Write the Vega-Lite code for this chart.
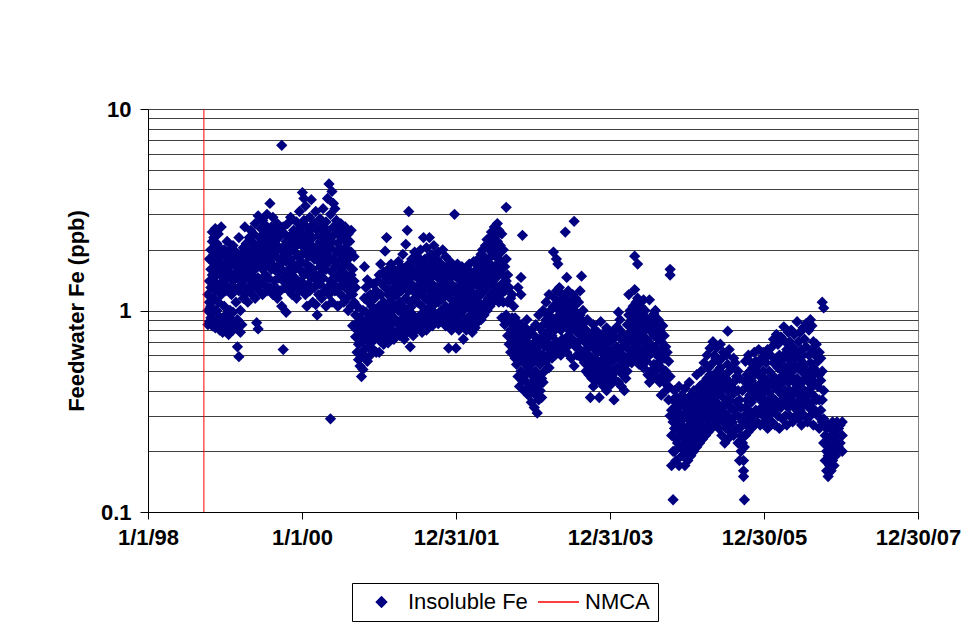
{
  "$schema": "https://vega.github.io/schema/vega-lite/v6.json",
  "width": 770,
  "height": 403,
  "autosize": {"type": "none"},
  "padding": {"left": 148, "top": 109, "right": 51, "bottom": 132},
  "background": "white",
  "config": {
    "font": "Liberation Sans",
    "view": {"stroke": "#808080", "strokeWidth": 1},
    "axis": {
      "labelFont": "Liberation Sans",
      "titleFont": "Liberation Sans",
      "labelColor": "black",
      "titleColor": "black",
      "domainColor": "black",
      "tickColor": "black",
      "labelFontWeight": "bold",
      "labelFontSize": 22,
      "titleFontSize": 22,
      "titleFontWeight": "bold"
    },
    "legend": {
      "orient": "none",
      "legendX": 204,
      "legendY": 474,
      "direction": "horizontal",
      "columns": 2,
      "strokeColor": "black",
      "fillColor": "white",
      "padding": 8,
      "labelFont": "Liberation Sans",
      "labelFontSize": 22,
      "labelColor": "black",
      "labelOffset": 5,
      "labelLimit": 300,
      "columnPadding": 9,
      "clipHeight": 22,
      "symbolOffset": 0,
      "symbolSize": 1681,
      "symbolStrokeWidth": 1.5
    }
  },
  "layer": [
    {
      "data": {"values": [
        {"d":"1998-10-12","v":0.85},{"d":"1998-10-12","v":1.0},{"d":"1998-10-12","v":1.2},
        {"d":"1998-10-19","v":0.88},{"d":"1998-10-19","v":1.1},{"d":"1998-10-19","v":1.4},{"d":"1998-10-19","v":1.8},
        {"d":"1998-10-26","v":0.92},{"d":"1998-10-26","v":1.05},{"d":"1998-10-26","v":1.3},{"d":"1998-10-26","v":1.6},{"d":"1998-10-26","v":2.0},
        {"d":"1998-11-02","v":0.84},{"d":"1998-11-02","v":0.97},{"d":"1998-11-02","v":1.5},{"d":"1998-11-02","v":1.75},{"d":"1998-11-02","v":2.2},{"d":"1998-11-02","v":2.45},
        {"d":"1998-11-09","v":0.9},{"d":"1998-11-09","v":1.15},{"d":"1998-11-09","v":1.45},{"d":"1998-11-09","v":1.9},{"d":"1998-11-09","v":2.3},
        {"d":"1998-11-16","v":0.82},{"d":"1998-11-16","v":1.25},{"d":"1998-11-16","v":1.65},{"d":"1998-11-16","v":2.05},{"d":"1998-11-16","v":2.55},
        {"d":"1998-11-23","v":0.88},{"d":"1998-11-23","v":1.0},{"d":"1998-11-23","v":1.35},{"d":"1998-11-23","v":1.8},{"d":"1998-11-23","v":2.15},
        {"d":"1998-11-30","v":0.84},{"d":"1998-11-30","v":1.1},{"d":"1998-11-30","v":1.55},{"d":"1998-11-30","v":1.95},{"d":"1998-11-30","v":2.4},
        {"d":"1998-12-07","v":0.8},{"d":"1998-12-07","v":0.93},{"d":"1998-12-07","v":1.3},{"d":"1998-12-07","v":1.7},{"d":"1998-12-07","v":2.05},
        {"d":"1998-12-14","v":0.86},{"d":"1998-12-14","v":1.2},{"d":"1998-12-14","v":1.5},{"d":"1998-12-14","v":1.85},{"d":"1998-12-14","v":2.6},
        {"d":"1998-12-21","v":0.78},{"d":"1998-12-21","v":0.9},{"d":"1998-12-21","v":1.4},{"d":"1998-12-21","v":1.65},
        {"d":"1998-12-28","v":0.83},{"d":"1998-12-28","v":1.05},{"d":"1998-12-28","v":1.35},{"d":"1998-12-28","v":2.0},
        {"d":"1999-01-04","v":0.8},{"d":"1999-01-04","v":0.95},{"d":"1999-01-04","v":1.25},{"d":"1999-01-04","v":1.6},{"d":"1999-01-04","v":1.9},
        {"d":"1999-01-11","v":0.86},{"d":"1999-01-11","v":1.45},{"d":"1999-01-11","v":1.75},{"d":"1999-01-11","v":2.2},
        {"d":"1999-01-18","v":0.76},{"d":"1999-01-18","v":0.9},{"d":"1999-01-18","v":1.3},{"d":"1999-01-18","v":1.55},
        {"d":"1999-01-25","v":0.84},{"d":"1999-01-25","v":1.0},{"d":"1999-01-25","v":1.65},{"d":"1999-01-25","v":2.0},
        {"d":"1999-02-01","v":0.9},{"d":"1999-02-01","v":1.2},{"d":"1999-02-01","v":1.5},{"d":"1999-02-01","v":1.85},
        {"d":"1999-02-08","v":0.8},{"d":"1999-02-08","v":0.98},{"d":"1999-02-08","v":1.4},{"d":"1999-02-08","v":2.1},
        {"d":"1999-02-15","v":0.86},{"d":"1999-02-15","v":1.3},{"d":"1999-02-15","v":1.7},
        {"d":"1999-02-22","v":0.82},{"d":"1999-02-22","v":1.1},{"d":"1999-02-22","v":1.55},{"d":"1999-02-22","v":1.95},
        {"d":"1999-03-01","v":0.66},{"d":"1999-03-01","v":0.9},{"d":"1999-03-01","v":1.45},{"d":"1999-03-01","v":1.8},
        {"d":"1999-03-08","v":0.59},{"d":"1999-03-08","v":1.25},{"d":"1999-03-08","v":1.65},{"d":"1999-03-08","v":2.3},
        {"d":"1999-03-15","v":0.78},{"d":"1999-03-15","v":1.0},{"d":"1999-03-15","v":1.5},{"d":"1999-03-15","v":1.9},
        {"d":"1999-03-22","v":0.85},{"d":"1999-03-22","v":1.35},{"d":"1999-03-22","v":1.75},
        {"d":"1999-03-29","v":1.15},{"d":"1999-03-29","v":1.6},{"d":"1999-03-29","v":2.05},
        {"d":"1999-04-05","v":1.2},{"d":"1999-04-05","v":1.45},{"d":"1999-04-05","v":1.85},{"d":"1999-04-05","v":2.6},
        {"d":"1999-04-12","v":1.3},{"d":"1999-04-12","v":1.7},{"d":"1999-04-12","v":2.15},
        {"d":"1999-04-19","v":1.1},{"d":"1999-04-19","v":1.55},{"d":"1999-04-19","v":1.95},
        {"d":"1999-04-26","v":1.25},{"d":"1999-04-26","v":1.8},{"d":"1999-04-26","v":2.3},
        {"d":"1999-05-03","v":1.4},{"d":"1999-05-03","v":1.65},{"d":"1999-05-03","v":2.0},{"d":"1999-05-03","v":2.5},
        {"d":"1999-05-10","v":1.2},{"d":"1999-05-10","v":1.5},{"d":"1999-05-10","v":1.9},{"d":"1999-05-10","v":2.2},
        {"d":"1999-05-17","v":1.35},{"d":"1999-05-17","v":1.75},{"d":"1999-05-17","v":2.4},
        {"d":"1999-05-24","v":1.15},{"d":"1999-05-24","v":1.6},{"d":"1999-05-24","v":2.05},{"d":"1999-05-24","v":2.7},
        {"d":"1999-05-31","v":0.87},{"d":"1999-05-31","v":1.3},{"d":"1999-05-31","v":1.85},
        {"d":"1999-06-07","v":0.81},{"d":"1999-06-07","v":1.45},{"d":"1999-06-07","v":2.1},{"d":"1999-06-07","v":2.95},
        {"d":"1999-06-14","v":1.25},{"d":"1999-06-14","v":1.7},{"d":"1999-06-14","v":2.3},
        {"d":"1999-06-21","v":1.4},{"d":"1999-06-21","v":1.95},{"d":"1999-06-21","v":2.55},
        {"d":"1999-06-28","v":1.2},{"d":"1999-06-28","v":1.6},{"d":"1999-06-28","v":2.2},{"d":"1999-06-28","v":2.8},
        {"d":"1999-07-05","v":1.35},{"d":"1999-07-05","v":1.8},{"d":"1999-07-05","v":2.4},
        {"d":"1999-07-12","v":1.5},{"d":"1999-07-12","v":2.05},{"d":"1999-07-12","v":2.65},
        {"d":"1999-07-19","v":1.25},{"d":"1999-07-19","v":1.7},{"d":"1999-07-19","v":2.25},{"d":"1999-07-19","v":3.0},
        {"d":"1999-07-26","v":1.45},{"d":"1999-07-26","v":1.9},{"d":"1999-07-26","v":2.5},
        {"d":"1999-08-02","v":1.3},{"d":"1999-08-02","v":1.75},{"d":"1999-08-02","v":2.15},{"d":"1999-08-02","v":3.4},
        {"d":"1999-08-09","v":1.6},{"d":"1999-08-09","v":2.0},{"d":"1999-08-09","v":2.6},
        {"d":"1999-08-16","v":1.2},{"d":"1999-08-16","v":1.85},{"d":"1999-08-16","v":2.35},{"d":"1999-08-16","v":2.9},
        {"d":"1999-08-23","v":1.4},{"d":"1999-08-23","v":1.65},{"d":"1999-08-23","v":2.2},
        {"d":"1999-08-30","v":1.3},{"d":"1999-08-30","v":1.95},{"d":"1999-08-30","v":2.5},
        {"d":"1999-09-06","v":1.15},{"d":"1999-09-06","v":1.55},{"d":"1999-09-06","v":2.1},{"d":"1999-09-06","v":2.7},
        {"d":"1999-09-13","v":1.45},{"d":"1999-09-13","v":1.8},{"d":"1999-09-13","v":2.3},
        {"d":"1999-09-20","v":1.25},{"d":"1999-09-20","v":1.7},{"d":"1999-09-20","v":2.45},
        {"d":"1999-09-27","v":1.05},{"d":"1999-09-27","v":1.6},{"d":"1999-09-27","v":2.0},{"d":"1999-09-27","v":6.6},
        {"d":"1999-10-04","v":0.64},{"d":"1999-10-04","v":1.4},{"d":"1999-10-04","v":1.85},{"d":"1999-10-04","v":2.6},
        {"d":"1999-10-11","v":1.3},{"d":"1999-10-11","v":2.1},{"d":"1999-10-11","v":2.4},
        {"d":"1999-10-18","v":0.98},{"d":"1999-10-18","v":1.5},{"d":"1999-10-18","v":1.75},{"d":"1999-10-18","v":2.2},
        {"d":"1999-10-25","v":1.35},{"d":"1999-10-25","v":1.9},{"d":"1999-10-25","v":2.7},
        {"d":"1999-11-01","v":1.25},{"d":"1999-11-01","v":1.6},{"d":"1999-11-01","v":2.05},
        {"d":"1999-11-08","v":1.4},{"d":"1999-11-08","v":1.8},{"d":"1999-11-08","v":2.35},{"d":"1999-11-08","v":2.9},
        {"d":"1999-11-15","v":1.2},{"d":"1999-11-15","v":1.55},{"d":"1999-11-15","v":2.15},
        {"d":"1999-11-22","v":1.3},{"d":"1999-11-22","v":1.7},{"d":"1999-11-22","v":2.5},
        {"d":"1999-11-29","v":1.45},{"d":"1999-11-29","v":1.95},{"d":"1999-11-29","v":2.3},
        {"d":"1999-12-06","v":1.15},{"d":"1999-12-06","v":1.65},{"d":"1999-12-06","v":2.1},{"d":"1999-12-06","v":2.75},
        {"d":"1999-12-13","v":1.35},{"d":"1999-12-13","v":1.85},{"d":"1999-12-13","v":2.45},
        {"d":"1999-12-20","v":1.25},{"d":"1999-12-20","v":1.6},{"d":"1999-12-20","v":2.2},{"d":"1999-12-20","v":3.1},
        {"d":"1999-12-27","v":1.4},{"d":"1999-12-27","v":1.75},{"d":"1999-12-27","v":2.6},
        {"d":"2000-01-03","v":1.3},{"d":"2000-01-03","v":1.9},{"d":"2000-01-03","v":2.4},{"d":"2000-01-03","v":3.85},
        {"d":"2000-01-10","v":1.5},{"d":"2000-01-10","v":2.05},{"d":"2000-01-10","v":2.8},{"d":"2000-01-10","v":3.6},
        {"d":"2000-01-17","v":1.2},{"d":"2000-01-17","v":1.7},{"d":"2000-01-17","v":2.25},{"d":"2000-01-17","v":3.3},
        {"d":"2000-01-24","v":1.05},{"d":"2000-01-24","v":1.55},{"d":"2000-01-24","v":2.0},{"d":"2000-01-24","v":2.6},
        {"d":"2000-01-31","v":1.35},{"d":"2000-01-31","v":1.85},{"d":"2000-01-31","v":2.45},
        {"d":"2000-02-07","v":1.25},{"d":"2000-02-07","v":1.65},{"d":"2000-02-07","v":2.15},{"d":"2000-02-07","v":2.9},
        {"d":"2000-02-14","v":1.45},{"d":"2000-02-14","v":1.95},{"d":"2000-02-14","v":2.55},{"d":"2000-02-14","v":3.55},
        {"d":"2000-02-21","v":1.1},{"d":"2000-02-21","v":1.6},{"d":"2000-02-21","v":2.3},
        {"d":"2000-02-28","v":1.3},{"d":"2000-02-28","v":1.8},{"d":"2000-02-28","v":2.7},
        {"d":"2000-03-06","v":1.07},{"d":"2000-03-06","v":1.5},{"d":"2000-03-06","v":2.05},{"d":"2000-03-06","v":3.1},
        {"d":"2000-03-13","v":0.95},{"d":"2000-03-13","v":1.4},{"d":"2000-03-13","v":1.9},{"d":"2000-03-13","v":2.5},
        {"d":"2000-03-20","v":1.2},{"d":"2000-03-20","v":1.75},{"d":"2000-03-20","v":2.35},
        {"d":"2000-03-27","v":1.35},{"d":"2000-03-27","v":1.65},{"d":"2000-03-27","v":2.2},{"d":"2000-03-27","v":2.85},
        {"d":"2000-04-03","v":1.15},{"d":"2000-04-03","v":1.55},{"d":"2000-04-03","v":2.0},{"d":"2000-04-03","v":2.6},
        {"d":"2000-04-10","v":1.45},{"d":"2000-04-10","v":1.85},{"d":"2000-04-10","v":2.4},{"d":"2000-04-10","v":3.2},
        {"d":"2000-04-17","v":1.25},{"d":"2000-04-17","v":1.7},{"d":"2000-04-17","v":2.25},
        {"d":"2000-04-24","v":1.05},{"d":"2000-04-24","v":1.6},{"d":"2000-04-24","v":2.1},{"d":"2000-04-24","v":2.75},
        {"d":"2000-05-01","v":1.3},{"d":"2000-05-01","v":1.9},{"d":"2000-05-01","v":2.5},{"d":"2000-05-01","v":3.6},
        {"d":"2000-05-08","v":1.2},{"d":"2000-05-08","v":1.75},{"d":"2000-05-08","v":2.3},{"d":"2000-05-08","v":4.25},
        {"d":"2000-05-15","v":0.29},{"d":"2000-05-15","v":1.4},{"d":"2000-05-15","v":2.05},{"d":"2000-05-15","v":3.0},
        {"d":"2000-05-22","v":1.1},{"d":"2000-05-22","v":1.55},{"d":"2000-05-22","v":2.2},{"d":"2000-05-22","v":3.9},
        {"d":"2000-05-29","v":1.35},{"d":"2000-05-29","v":1.8},{"d":"2000-05-29","v":2.6},{"d":"2000-05-29","v":3.4},
        {"d":"2000-06-05","v":1.25},{"d":"2000-06-05","v":1.65},{"d":"2000-06-05","v":2.4},{"d":"2000-06-05","v":3.2},
        {"d":"2000-06-12","v":1.45},{"d":"2000-06-12","v":1.95},{"d":"2000-06-12","v":2.8},
        {"d":"2000-06-19","v":1.05},{"d":"2000-06-19","v":1.5},{"d":"2000-06-19","v":2.15},{"d":"2000-06-19","v":2.55},
        {"d":"2000-06-26","v":1.3},{"d":"2000-06-26","v":1.75},{"d":"2000-06-26","v":2.35},
        {"d":"2000-07-03","v":1.2},{"d":"2000-07-03","v":1.6},{"d":"2000-07-03","v":2.0},{"d":"2000-07-03","v":2.7},
        {"d":"2000-07-10","v":1.4},{"d":"2000-07-10","v":1.85},{"d":"2000-07-10","v":2.5},
        {"d":"2000-07-17","v":1.1},{"d":"2000-07-17","v":1.55},{"d":"2000-07-17","v":2.25},
        {"d":"2000-07-24","v":1.3},{"d":"2000-07-24","v":1.7},{"d":"2000-07-24","v":2.05},{"d":"2000-07-24","v":2.6},
        {"d":"2000-07-31","v":1.15},{"d":"2000-07-31","v":1.45},{"d":"2000-07-31","v":1.9},
        {"d":"2000-08-07","v":1.0},{"d":"2000-08-07","v":1.35},{"d":"2000-08-07","v":1.8},{"d":"2000-08-07","v":2.4},
        {"d":"2000-08-14","v":1.25},{"d":"2000-08-14","v":1.65},{"d":"2000-08-14","v":2.2},
        {"d":"2000-08-21","v":1.05},{"d":"2000-08-21","v":1.5},{"d":"2000-08-21","v":1.95},{"d":"2000-08-21","v":2.5},
        {"d":"2000-08-28","v":0.84},{"d":"2000-08-28","v":1.2},{"d":"2000-08-28","v":1.6},
        {"d":"2000-09-04","v":1.1},{"d":"2000-09-04","v":1.4},{"d":"2000-09-04","v":1.85},
        {"d":"2000-09-11","v":0.74},{"d":"2000-09-11","v":0.95},{"d":"2000-09-11","v":1.3},
        {"d":"2000-09-18","v":0.62},{"d":"2000-09-18","v":0.8},{"d":"2000-09-18","v":1.05},
        {"d":"2000-09-25","v":0.57},{"d":"2000-09-25","v":0.68},{"d":"2000-09-25","v":0.88},
        {"d":"2000-10-02","v":0.53},{"d":"2000-10-02","v":0.75},{"d":"2000-10-02","v":0.92},
        {"d":"2000-10-09","v":0.47},{"d":"2000-10-09","v":0.6},{"d":"2000-10-09","v":0.82},
        {"d":"2000-10-16","v":0.51},{"d":"2000-10-16","v":0.7},{"d":"2000-10-16","v":1.0},
        {"d":"2000-10-23","v":0.64},{"d":"2000-10-23","v":0.86},{"d":"2000-10-23","v":1.15},{"d":"2000-10-23","v":1.65},
        {"d":"2000-10-30","v":0.58},{"d":"2000-10-30","v":0.78},{"d":"2000-10-30","v":0.98},{"d":"2000-10-30","v":1.3},
        {"d":"2000-11-06","v":0.56},{"d":"2000-11-06","v":0.72},{"d":"2000-11-06","v":0.9},{"d":"2000-11-06","v":1.42},
        {"d":"2000-11-13","v":0.66},{"d":"2000-11-13","v":0.83},{"d":"2000-11-13","v":1.1},
        {"d":"2000-11-20","v":0.6},{"d":"2000-11-20","v":0.76},{"d":"2000-11-20","v":0.95},{"d":"2000-11-20","v":1.2},
        {"d":"2000-11-27","v":0.7},{"d":"2000-11-27","v":0.88},{"d":"2000-11-27","v":1.05},
        {"d":"2000-12-04","v":0.64},{"d":"2000-12-04","v":0.8},{"d":"2000-12-04","v":1.0},{"d":"2000-12-04","v":1.35},
        {"d":"2000-12-11","v":0.72},{"d":"2000-12-11","v":0.92},{"d":"2000-12-11","v":1.15},
        {"d":"2000-12-18","v":0.62},{"d":"2000-12-18","v":0.85},{"d":"2000-12-18","v":1.25},
        {"d":"2000-12-25","v":0.75},{"d":"2000-12-25","v":0.97},{"d":"2000-12-25","v":1.4},
        {"d":"2001-01-01","v":0.62},{"d":"2001-01-01","v":0.8},{"d":"2001-01-01","v":1.05},{"d":"2001-01-01","v":1.5},
        {"d":"2001-01-08","v":0.7},{"d":"2001-01-08","v":0.9},{"d":"2001-01-08","v":1.2},{"d":"2001-01-08","v":1.7},
        {"d":"2001-01-15","v":0.78},{"d":"2001-01-15","v":1.0},{"d":"2001-01-15","v":1.35},
        {"d":"2001-01-22","v":0.68},{"d":"2001-01-22","v":0.86},{"d":"2001-01-22","v":1.1},{"d":"2001-01-22","v":1.55},
        {"d":"2001-01-29","v":0.74},{"d":"2001-01-29","v":0.95},{"d":"2001-01-29","v":1.3},{"d":"2001-01-29","v":1.97},
        {"d":"2001-02-05","v":0.8},{"d":"2001-02-05","v":1.05},{"d":"2001-02-05","v":1.45},{"d":"2001-02-05","v":2.3},
        {"d":"2001-02-12","v":0.69},{"d":"2001-02-12","v":0.9},{"d":"2001-02-12","v":1.2},{"d":"2001-02-12","v":1.6},
        {"d":"2001-02-19","v":0.85},{"d":"2001-02-19","v":1.1},{"d":"2001-02-19","v":1.4},
        {"d":"2001-02-26","v":0.75},{"d":"2001-02-26","v":0.98},{"d":"2001-02-26","v":1.25},{"d":"2001-02-26","v":1.7},
        {"d":"2001-03-05","v":0.8},{"d":"2001-03-05","v":1.15},{"d":"2001-03-05","v":1.5},
        {"d":"2001-03-12","v":0.72},{"d":"2001-03-12","v":0.92},{"d":"2001-03-12","v":1.3},{"d":"2001-03-12","v":1.6},
        {"d":"2001-03-19","v":0.88},{"d":"2001-03-19","v":1.05},{"d":"2001-03-19","v":1.4},
        {"d":"2001-03-26","v":0.78},{"d":"2001-03-26","v":1.2},{"d":"2001-03-26","v":1.55},
        {"d":"2001-04-02","v":0.85},{"d":"2001-04-02","v":1.0},{"d":"2001-04-02","v":1.35},{"d":"2001-04-02","v":1.75},
        {"d":"2001-04-09","v":0.75},{"d":"2001-04-09","v":1.1},{"d":"2001-04-09","v":1.5},
        {"d":"2001-04-16","v":0.9},{"d":"2001-04-16","v":1.25},{"d":"2001-04-16","v":1.65},
        {"d":"2001-04-23","v":0.8},{"d":"2001-04-23","v":1.05},{"d":"2001-04-23","v":1.45},{"d":"2001-04-23","v":1.9},
        {"d":"2001-04-30","v":0.72},{"d":"2001-04-30","v":0.95},{"d":"2001-04-30","v":1.3},{"d":"2001-04-30","v":1.6},
        {"d":"2001-05-07","v":0.86},{"d":"2001-05-07","v":1.15},{"d":"2001-05-07","v":1.55},{"d":"2001-05-07","v":2.13},
        {"d":"2001-05-14","v":0.78},{"d":"2001-05-14","v":1.0},{"d":"2001-05-14","v":1.4},{"d":"2001-05-14","v":2.5},
        {"d":"2001-05-21","v":0.9},{"d":"2001-05-21","v":1.25},{"d":"2001-05-21","v":1.7},{"d":"2001-05-21","v":3.1},
        {"d":"2001-05-28","v":0.66},{"d":"2001-05-28","v":1.1},{"d":"2001-05-28","v":1.45},
        {"d":"2001-06-04","v":0.82},{"d":"2001-06-04","v":1.05},{"d":"2001-06-04","v":1.35},{"d":"2001-06-04","v":1.8},
        {"d":"2001-06-11","v":0.75},{"d":"2001-06-11","v":0.95},{"d":"2001-06-11","v":1.25},{"d":"2001-06-11","v":1.6},
        {"d":"2001-06-18","v":0.88},{"d":"2001-06-18","v":1.15},{"d":"2001-06-18","v":1.5},{"d":"2001-06-18","v":1.95},
        {"d":"2001-06-25","v":0.8},{"d":"2001-06-25","v":1.3},{"d":"2001-06-25","v":1.75},
        {"d":"2001-07-02","v":0.92},{"d":"2001-07-02","v":1.1},{"d":"2001-07-02","v":1.45},{"d":"2001-07-02","v":1.85},
        {"d":"2001-07-09","v":0.84},{"d":"2001-07-09","v":1.2},{"d":"2001-07-09","v":1.6},
        {"d":"2001-07-16","v":0.95},{"d":"2001-07-16","v":1.35},{"d":"2001-07-16","v":1.7},{"d":"2001-07-16","v":2.0},
        {"d":"2001-07-23","v":0.78},{"d":"2001-07-23","v":1.05},{"d":"2001-07-23","v":1.5},
        {"d":"2001-07-30","v":0.9},{"d":"2001-07-30","v":1.25},{"d":"2001-07-30","v":1.65},{"d":"2001-07-30","v":2.3},
        {"d":"2001-08-06","v":0.82},{"d":"2001-08-06","v":1.15},{"d":"2001-08-06","v":1.4},{"d":"2001-08-06","v":1.8},
        {"d":"2001-08-13","v":0.8},{"d":"2001-08-13","v":1.0},{"d":"2001-08-13","v":1.55},{"d":"2001-08-13","v":2.05},
        {"d":"2001-08-20","v":0.96},{"d":"2001-08-20","v":1.3},{"d":"2001-08-20","v":1.7},
        {"d":"2001-08-27","v":0.86},{"d":"2001-08-27","v":1.1},{"d":"2001-08-27","v":1.45},{"d":"2001-08-27","v":2.3},
        {"d":"2001-09-03","v":0.92},{"d":"2001-09-03","v":1.2},{"d":"2001-09-03","v":1.6},{"d":"2001-09-03","v":1.9},
        {"d":"2001-09-10","v":0.84},{"d":"2001-09-10","v":1.05},{"d":"2001-09-10","v":1.35},{"d":"2001-09-10","v":1.75},
        {"d":"2001-09-17","v":0.98},{"d":"2001-09-17","v":1.25},{"d":"2001-09-17","v":1.5},{"d":"2001-09-17","v":2.1},
        {"d":"2001-09-24","v":0.88},{"d":"2001-09-24","v":1.15},{"d":"2001-09-24","v":1.65},
        {"d":"2001-10-01","v":0.94},{"d":"2001-10-01","v":1.3},{"d":"2001-10-01","v":1.8},
        {"d":"2001-10-08","v":0.86},{"d":"2001-10-08","v":1.1},{"d":"2001-10-08","v":1.45},{"d":"2001-10-08","v":1.95},
        {"d":"2001-10-15","v":0.9},{"d":"2001-10-15","v":1.2},{"d":"2001-10-15","v":1.55},
        {"d":"2001-10-22","v":1.0},{"d":"2001-10-22","v":1.35},{"d":"2001-10-22","v":1.7},
        {"d":"2001-10-29","v":0.88},{"d":"2001-10-29","v":1.15},{"d":"2001-10-29","v":1.6},{"d":"2001-10-29","v":2.0},
        {"d":"2001-11-05","v":0.95},{"d":"2001-11-05","v":1.25},{"d":"2001-11-05","v":1.5},
        {"d":"2001-11-12","v":0.84},{"d":"2001-11-12","v":1.05},{"d":"2001-11-12","v":1.4},{"d":"2001-11-12","v":1.85},
        {"d":"2001-11-19","v":0.92},{"d":"2001-11-19","v":1.3},{"d":"2001-11-19","v":1.65},
        {"d":"2001-11-26","v":0.65},{"d":"2001-11-26","v":1.0},{"d":"2001-11-26","v":1.2},{"d":"2001-11-26","v":1.55},
        {"d":"2001-12-03","v":0.9},{"d":"2001-12-03","v":1.15},{"d":"2001-12-03","v":1.45},{"d":"2001-12-03","v":1.75},
        {"d":"2001-12-10","v":0.8},{"d":"2001-12-10","v":1.05},{"d":"2001-12-10","v":1.35},
        {"d":"2001-12-17","v":0.94},{"d":"2001-12-17","v":1.25},{"d":"2001-12-17","v":1.6},
        {"d":"2001-12-24","v":0.85},{"d":"2001-12-24","v":1.1},{"d":"2001-12-24","v":1.5},{"d":"2001-12-24","v":3.0},
        {"d":"2001-12-31","v":0.65},{"d":"2001-12-31","v":0.98},{"d":"2001-12-31","v":1.3},
        {"d":"2002-01-07","v":0.9},{"d":"2002-01-07","v":1.2},{"d":"2002-01-07","v":1.45},{"d":"2002-01-07","v":1.7},
        {"d":"2002-01-14","v":0.8},{"d":"2002-01-14","v":1.05},{"d":"2002-01-14","v":1.3},
        {"d":"2002-01-21","v":0.95},{"d":"2002-01-21","v":1.15},{"d":"2002-01-21","v":1.55},
        {"d":"2002-01-28","v":0.85},{"d":"2002-01-28","v":1.1},{"d":"2002-01-28","v":1.4},{"d":"2002-01-28","v":1.65},
        {"d":"2002-02-04","v":0.72},{"d":"2002-02-04","v":1.0},{"d":"2002-02-04","v":1.25},
        {"d":"2002-02-11","v":0.88},{"d":"2002-02-11","v":1.15},{"d":"2002-02-11","v":1.5},
        {"d":"2002-02-18","v":0.8},{"d":"2002-02-18","v":1.05},{"d":"2002-02-18","v":1.35},{"d":"2002-02-18","v":1.6},
        {"d":"2002-02-25","v":0.92},{"d":"2002-02-25","v":1.2},{"d":"2002-02-25","v":1.45},
        {"d":"2002-03-04","v":0.85},{"d":"2002-03-04","v":1.1},{"d":"2002-03-04","v":1.3},{"d":"2002-03-04","v":1.7},
        {"d":"2002-03-11","v":0.95},{"d":"2002-03-11","v":1.25},{"d":"2002-03-11","v":1.55},
        {"d":"2002-03-18","v":0.78},{"d":"2002-03-18","v":1.0},{"d":"2002-03-18","v":1.4},
        {"d":"2002-03-25","v":0.9},{"d":"2002-03-25","v":1.15},{"d":"2002-03-25","v":1.5},{"d":"2002-03-25","v":1.75},
        {"d":"2002-04-01","v":0.82},{"d":"2002-04-01","v":1.05},{"d":"2002-04-01","v":1.35},
        {"d":"2002-04-08","v":0.96},{"d":"2002-04-08","v":1.2},{"d":"2002-04-08","v":1.6},
        {"d":"2002-04-15","v":0.88},{"d":"2002-04-15","v":1.1},{"d":"2002-04-15","v":1.45},{"d":"2002-04-15","v":1.8},
        {"d":"2002-04-22","v":1.0},{"d":"2002-04-22","v":1.3},{"d":"2002-04-22","v":1.65},
        {"d":"2002-04-29","v":0.9},{"d":"2002-04-29","v":1.2},{"d":"2002-04-29","v":1.5},{"d":"2002-04-29","v":1.9},
        {"d":"2002-05-06","v":1.05},{"d":"2002-05-06","v":1.35},{"d":"2002-05-06","v":1.7},{"d":"2002-05-06","v":2.0},
        {"d":"2002-05-13","v":0.95},{"d":"2002-05-13","v":1.25},{"d":"2002-05-13","v":1.55},{"d":"2002-05-13","v":1.85},
        {"d":"2002-05-20","v":1.1},{"d":"2002-05-20","v":1.4},{"d":"2002-05-20","v":1.75},{"d":"2002-05-20","v":2.1},
        {"d":"2002-05-27","v":1.0},{"d":"2002-05-27","v":1.3},{"d":"2002-05-27","v":1.6},{"d":"2002-05-27","v":2.25},
        {"d":"2002-06-03","v":1.15},{"d":"2002-06-03","v":1.45},{"d":"2002-06-03","v":1.8},{"d":"2002-06-03","v":2.05},
        {"d":"2002-06-10","v":1.05},{"d":"2002-06-10","v":1.35},{"d":"2002-06-10","v":1.7},{"d":"2002-06-10","v":2.3},
        {"d":"2002-06-17","v":1.2},{"d":"2002-06-17","v":1.5},{"d":"2002-06-17","v":1.95},{"d":"2002-06-17","v":2.45},
        {"d":"2002-06-24","v":1.1},{"d":"2002-06-24","v":1.4},{"d":"2002-06-24","v":1.65},{"d":"2002-06-24","v":2.15},
        {"d":"2002-07-01","v":1.25},{"d":"2002-07-01","v":1.6},{"d":"2002-07-01","v":2.0},{"d":"2002-07-01","v":2.6},
        {"d":"2002-07-08","v":1.15},{"d":"2002-07-08","v":1.45},{"d":"2002-07-08","v":1.85},{"d":"2002-07-08","v":2.35},
        {"d":"2002-07-15","v":1.3},{"d":"2002-07-15","v":1.7},{"d":"2002-07-15","v":2.2},{"d":"2002-07-15","v":2.7},
        {"d":"2002-07-22","v":1.1},{"d":"2002-07-22","v":1.55},{"d":"2002-07-22","v":1.9},{"d":"2002-07-22","v":2.5},
        {"d":"2002-07-29","v":1.2},{"d":"2002-07-29","v":1.65},{"d":"2002-07-29","v":2.1},
        {"d":"2002-08-05","v":0.92},{"d":"2002-08-05","v":1.35},{"d":"2002-08-05","v":1.75},{"d":"2002-08-05","v":2.4},
        {"d":"2002-08-12","v":1.1},{"d":"2002-08-12","v":1.5},{"d":"2002-08-12","v":2.0},
        {"d":"2002-08-19","v":0.85},{"d":"2002-08-19","v":1.25},{"d":"2002-08-19","v":1.65},
        {"d":"2002-08-26","v":0.95},{"d":"2002-08-26","v":1.4},{"d":"2002-08-26","v":1.8},{"d":"2002-08-26","v":3.25},
        {"d":"2002-09-02","v":0.75},{"d":"2002-09-02","v":1.1},{"d":"2002-09-02","v":1.5},
        {"d":"2002-09-09","v":0.68},{"d":"2002-09-09","v":0.9},{"d":"2002-09-09","v":1.3},
        {"d":"2002-09-16","v":0.62},{"d":"2002-09-16","v":0.8},{"d":"2002-09-16","v":1.15},
        {"d":"2002-09-23","v":0.7},{"d":"2002-09-23","v":0.92},{"d":"2002-09-23","v":1.2},
        {"d":"2002-09-30","v":0.66},{"d":"2002-09-30","v":0.85},{"d":"2002-09-30","v":1.05},
        {"d":"2002-10-07","v":0.58},{"d":"2002-10-07","v":0.76},{"d":"2002-10-07","v":0.92},
        {"d":"2002-10-14","v":0.54},{"d":"2002-10-14","v":0.7},{"d":"2002-10-14","v":0.88},
        {"d":"2002-10-21","v":0.47},{"d":"2002-10-21","v":0.62},{"d":"2002-10-21","v":0.8},{"d":"2002-10-21","v":1.3},
        {"d":"2002-10-28","v":0.42},{"d":"2002-10-28","v":0.58},{"d":"2002-10-28","v":0.74},
        {"d":"2002-11-04","v":0.5},{"d":"2002-11-04","v":0.66},{"d":"2002-11-04","v":0.85},{"d":"2002-11-04","v":1.2},{"d":"2002-11-04","v":1.46},
        {"d":"2002-11-11","v":0.45},{"d":"2002-11-11","v":0.6},{"d":"2002-11-11","v":0.78},{"d":"2002-11-11","v":2.36},
        {"d":"2002-11-18","v":0.4},{"d":"2002-11-18","v":0.55},{"d":"2002-11-18","v":0.72},
        {"d":"2002-11-25","v":0.48},{"d":"2002-11-25","v":0.64},{"d":"2002-11-25","v":0.82},
        {"d":"2002-12-02","v":0.44},{"d":"2002-12-02","v":0.58},{"d":"2002-12-02","v":0.7},{"d":"2002-12-02","v":0.9},
        {"d":"2002-12-09","v":0.38},{"d":"2002-12-09","v":0.52},{"d":"2002-12-09","v":0.66},
        {"d":"2002-12-16","v":0.42},{"d":"2002-12-16","v":0.6},{"d":"2002-12-16","v":0.76},
        {"d":"2002-12-23","v":0.35},{"d":"2002-12-23","v":0.48},{"d":"2002-12-23","v":0.62},{"d":"2002-12-23","v":0.8},
        {"d":"2002-12-30","v":0.4},{"d":"2002-12-30","v":0.55},{"d":"2002-12-30","v":0.68},
        {"d":"2003-01-06","v":0.33},{"d":"2003-01-06","v":0.45},{"d":"2003-01-06","v":0.6},{"d":"2003-01-06","v":0.75},
        {"d":"2003-01-13","v":0.38},{"d":"2003-01-13","v":0.5},{"d":"2003-01-13","v":0.65},{"d":"2003-01-13","v":0.85},
        {"d":"2003-01-20","v":0.31},{"d":"2003-01-20","v":0.42},{"d":"2003-01-20","v":0.56},{"d":"2003-01-20","v":0.7},
        {"d":"2003-01-27","v":0.36},{"d":"2003-01-27","v":0.48},{"d":"2003-01-27","v":0.62},{"d":"2003-01-27","v":0.95},
        {"d":"2003-02-03","v":0.4},{"d":"2003-02-03","v":0.54},{"d":"2003-02-03","v":0.68},{"d":"2003-02-03","v":0.82},
        {"d":"2003-02-10","v":0.37},{"d":"2003-02-10","v":0.46},{"d":"2003-02-10","v":0.58},{"d":"2003-02-10","v":0.74},
        {"d":"2003-02-17","v":0.44},{"d":"2003-02-17","v":0.6},{"d":"2003-02-17","v":0.78},{"d":"2003-02-17","v":1.0},
        {"d":"2003-02-24","v":0.5},{"d":"2003-02-24","v":0.66},{"d":"2003-02-24","v":0.86},
        {"d":"2003-03-03","v":0.56},{"d":"2003-03-03","v":0.72},{"d":"2003-03-03","v":0.9},{"d":"2003-03-03","v":1.1},
        {"d":"2003-03-10","v":0.6},{"d":"2003-03-10","v":0.78},{"d":"2003-03-10","v":0.95},
        {"d":"2003-03-17","v":0.52},{"d":"2003-03-17","v":0.68},{"d":"2003-03-17","v":0.85},{"d":"2003-03-17","v":1.2},
        {"d":"2003-03-24","v":0.64},{"d":"2003-03-24","v":0.82},{"d":"2003-03-24","v":1.0},
        {"d":"2003-03-31","v":0.58},{"d":"2003-03-31","v":0.75},{"d":"2003-03-31","v":0.92},
        {"d":"2003-04-07","v":0.66},{"d":"2003-04-07","v":0.88},{"d":"2003-04-07","v":1.05},{"d":"2003-04-07","v":1.95},
        {"d":"2003-04-14","v":0.6},{"d":"2003-04-14","v":0.8},{"d":"2003-04-14","v":1.15},
        {"d":"2003-04-21","v":0.7},{"d":"2003-04-21","v":0.92},{"d":"2003-04-21","v":1.25},{"d":"2003-04-21","v":1.8},
        {"d":"2003-04-28","v":0.62},{"d":"2003-04-28","v":0.84},{"d":"2003-04-28","v":1.02},{"d":"2003-04-28","v":1.7},
        {"d":"2003-05-05","v":0.68},{"d":"2003-05-05","v":0.9},{"d":"2003-05-05","v":1.1},{"d":"2003-05-05","v":1.3},
        {"d":"2003-05-12","v":0.6},{"d":"2003-05-12","v":0.8},{"d":"2003-05-12","v":0.98},
        {"d":"2003-05-19","v":0.72},{"d":"2003-05-19","v":0.95},{"d":"2003-05-19","v":1.2},
        {"d":"2003-05-26","v":0.65},{"d":"2003-05-26","v":0.86},{"d":"2003-05-26","v":1.05},
        {"d":"2003-06-02","v":0.7},{"d":"2003-06-02","v":0.92},{"d":"2003-06-02","v":1.15},{"d":"2003-06-02","v":2.45},
        {"d":"2003-06-09","v":0.62},{"d":"2003-06-09","v":0.82},{"d":"2003-06-09","v":1.0},{"d":"2003-06-09","v":1.46},
        {"d":"2003-06-16","v":0.75},{"d":"2003-06-16","v":0.96},{"d":"2003-06-16","v":1.25},
        {"d":"2003-06-23","v":0.68},{"d":"2003-06-23","v":0.88},{"d":"2003-06-23","v":1.1},
        {"d":"2003-06-30","v":0.58},{"d":"2003-06-30","v":0.8},{"d":"2003-06-30","v":1.0},
        {"d":"2003-07-07","v":0.72},{"d":"2003-07-07","v":0.94},{"d":"2003-07-07","v":1.2},
        {"d":"2003-07-14","v":0.53},{"d":"2003-07-14","v":0.85},{"d":"2003-07-14","v":1.05},{"d":"2003-07-14","v":2.77},
        {"d":"2003-07-21","v":0.66},{"d":"2003-07-21","v":0.9},{"d":"2003-07-21","v":1.15},
        {"d":"2003-07-28","v":0.6},{"d":"2003-07-28","v":0.78},{"d":"2003-07-28","v":0.97},
        {"d":"2003-08-04","v":0.7},{"d":"2003-08-04","v":0.86},{"d":"2003-08-04","v":1.1},
        {"d":"2003-08-11","v":0.64},{"d":"2003-08-11","v":0.8},{"d":"2003-08-11","v":0.95},{"d":"2003-08-11","v":1.25},
        {"d":"2003-08-18","v":0.58},{"d":"2003-08-18","v":0.75},{"d":"2003-08-18","v":0.9},{"d":"2003-08-18","v":1.48},
        {"d":"2003-08-25","v":0.62},{"d":"2003-08-25","v":0.82},{"d":"2003-08-25","v":1.0},
        {"d":"2003-09-01","v":0.55},{"d":"2003-09-01","v":0.7},{"d":"2003-09-01","v":0.87},
        {"d":"2003-09-08","v":0.5},{"d":"2003-09-08","v":0.64},{"d":"2003-09-08","v":0.8},
        {"d":"2003-09-15","v":0.56},{"d":"2003-09-15","v":0.72},{"d":"2003-09-15","v":0.9},
        {"d":"2003-09-22","v":0.48},{"d":"2003-09-22","v":0.6},{"d":"2003-09-22","v":0.76},
        {"d":"2003-09-29","v":0.37},{"d":"2003-09-29","v":0.52},{"d":"2003-09-29","v":0.68},
        {"d":"2003-10-06","v":0.46},{"d":"2003-10-06","v":0.58},{"d":"2003-10-06","v":0.74},
        {"d":"2003-10-13","v":0.42},{"d":"2003-10-13","v":0.55},{"d":"2003-10-13","v":0.7},{"d":"2003-10-13","v":0.85},
        {"d":"2003-10-20","v":0.5},{"d":"2003-10-20","v":0.64},{"d":"2003-10-20","v":0.8},
        {"d":"2003-10-27","v":0.45},{"d":"2003-10-27","v":0.57},{"d":"2003-10-27","v":0.72},
        {"d":"2003-11-03","v":0.48},{"d":"2003-11-03","v":0.62},{"d":"2003-11-03","v":0.78},
        {"d":"2003-11-10","v":0.37},{"d":"2003-11-10","v":0.52},{"d":"2003-11-10","v":0.66},
        {"d":"2003-11-17","v":0.44},{"d":"2003-11-17","v":0.56},{"d":"2003-11-17","v":0.7},{"d":"2003-11-17","v":0.88},
        {"d":"2003-11-24","v":0.5},{"d":"2003-11-24","v":0.62},{"d":"2003-11-24","v":0.76},
        {"d":"2003-12-01","v":0.42},{"d":"2003-12-01","v":0.54},{"d":"2003-12-01","v":0.68},
        {"d":"2003-12-08","v":0.47},{"d":"2003-12-08","v":0.6},{"d":"2003-12-08","v":0.75},
        {"d":"2003-12-15","v":0.4},{"d":"2003-12-15","v":0.52},{"d":"2003-12-15","v":0.65},{"d":"2003-12-15","v":0.82},
        {"d":"2003-12-22","v":0.45},{"d":"2003-12-22","v":0.58},{"d":"2003-12-22","v":0.72},
        {"d":"2003-12-29","v":0.5},{"d":"2003-12-29","v":0.63},{"d":"2003-12-29","v":0.78},
        {"d":"2004-01-05","v":0.43},{"d":"2004-01-05","v":0.55},{"d":"2004-01-05","v":0.7},
        {"d":"2004-01-12","v":0.48},{"d":"2004-01-12","v":0.62},{"d":"2004-01-12","v":0.78},
        {"d":"2004-01-19","v":0.36},{"d":"2004-01-19","v":0.5},{"d":"2004-01-19","v":0.64},
        {"d":"2004-01-26","v":0.45},{"d":"2004-01-26","v":0.58},{"d":"2004-01-26","v":0.74},
        {"d":"2004-02-02","v":0.52},{"d":"2004-02-02","v":0.66},{"d":"2004-02-02","v":0.83},
        {"d":"2004-02-09","v":0.44},{"d":"2004-02-09","v":0.6},{"d":"2004-02-09","v":0.98},
        {"d":"2004-02-16","v":0.5},{"d":"2004-02-16","v":0.64},{"d":"2004-02-16","v":0.8},{"d":"2004-02-16","v":0.9},
        {"d":"2004-02-23","v":0.42},{"d":"2004-02-23","v":0.56},{"d":"2004-02-23","v":0.72},
        {"d":"2004-03-01","v":0.48},{"d":"2004-03-01","v":0.6},{"d":"2004-03-01","v":0.76},
        {"d":"2004-03-08","v":0.4},{"d":"2004-03-08","v":0.53},{"d":"2004-03-08","v":0.68},
        {"d":"2004-03-15","v":0.46},{"d":"2004-03-15","v":0.58},{"d":"2004-03-15","v":0.74},
        {"d":"2004-03-22","v":0.5},{"d":"2004-03-22","v":0.65},{"d":"2004-03-22","v":0.85},
        {"d":"2004-03-29","v":0.56},{"d":"2004-03-29","v":0.72},{"d":"2004-03-29","v":0.95},{"d":"2004-03-29","v":1.2},
        {"d":"2004-04-05","v":0.6},{"d":"2004-04-05","v":0.78},{"d":"2004-04-05","v":1.0},
        {"d":"2004-04-12","v":0.55},{"d":"2004-04-12","v":0.7},{"d":"2004-04-12","v":0.9},
        {"d":"2004-04-19","v":0.62},{"d":"2004-04-19","v":0.82},{"d":"2004-04-19","v":1.05},
        {"d":"2004-04-26","v":0.58},{"d":"2004-04-26","v":0.75},{"d":"2004-04-26","v":0.96},{"d":"2004-04-26","v":1.27},{"d":"2004-04-26","v":1.86},
        {"d":"2004-05-03","v":0.66},{"d":"2004-05-03","v":0.85},{"d":"2004-05-03","v":1.1},
        {"d":"2004-05-10","v":0.6},{"d":"2004-05-10","v":0.78},{"d":"2004-05-10","v":1.0},{"d":"2004-05-10","v":1.15},{"d":"2004-05-10","v":1.7},
        {"d":"2004-05-17","v":0.54},{"d":"2004-05-17","v":0.7},{"d":"2004-05-17","v":0.9},
        {"d":"2004-05-24","v":0.64},{"d":"2004-05-24","v":0.84},{"d":"2004-05-24","v":1.05},
        {"d":"2004-05-31","v":0.58},{"d":"2004-05-31","v":0.76},{"d":"2004-05-31","v":0.95},
        {"d":"2004-06-07","v":0.52},{"d":"2004-06-07","v":0.7},{"d":"2004-06-07","v":0.88},{"d":"2004-06-07","v":1.13},
        {"d":"2004-06-14","v":0.62},{"d":"2004-06-14","v":0.8},{"d":"2004-06-14","v":1.0},
        {"d":"2004-06-21","v":0.56},{"d":"2004-06-21","v":0.72},{"d":"2004-06-21","v":0.92},
        {"d":"2004-06-28","v":0.48},{"d":"2004-06-28","v":0.66},{"d":"2004-06-28","v":0.85},
        {"d":"2004-07-05","v":0.44},{"d":"2004-07-05","v":0.6},{"d":"2004-07-05","v":0.8},{"d":"2004-07-05","v":1.13},
        {"d":"2004-07-12","v":0.5},{"d":"2004-07-12","v":0.68},{"d":"2004-07-12","v":0.9},
        {"d":"2004-07-19","v":0.46},{"d":"2004-07-19","v":0.62},{"d":"2004-07-19","v":0.85},
        {"d":"2004-07-26","v":0.54},{"d":"2004-07-26","v":0.75},{"d":"2004-07-26","v":0.96},
        {"d":"2004-08-02","v":0.5},{"d":"2004-08-02","v":0.66},{"d":"2004-08-02","v":0.85},{"d":"2004-08-02","v":1.0},
        {"d":"2004-08-09","v":0.46},{"d":"2004-08-09","v":0.6},{"d":"2004-08-09","v":0.78},
        {"d":"2004-08-16","v":0.55},{"d":"2004-08-16","v":0.72},{"d":"2004-08-16","v":0.9},
        {"d":"2004-08-23","v":0.44},{"d":"2004-08-23","v":0.62},{"d":"2004-08-23","v":0.8},
        {"d":"2004-08-30","v":0.38},{"d":"2004-08-30","v":0.52},{"d":"2004-08-30","v":0.7},
        {"d":"2004-09-06","v":0.48},{"d":"2004-09-06","v":0.64},{"d":"2004-09-06","v":0.84},
        {"d":"2004-09-13","v":0.44},{"d":"2004-09-13","v":0.58},{"d":"2004-09-13","v":0.75},
        {"d":"2004-09-20","v":0.4},{"d":"2004-09-20","v":0.5},{"d":"2004-09-20","v":0.66},
        {"d":"2004-09-27","v":0.46},{"d":"2004-09-27","v":0.62},
        {"d":"2004-10-04","v":0.36},{"d":"2004-10-04","v":0.42},{"d":"2004-10-04","v":0.56},
        {"d":"2004-10-11","v":0.3},{"d":"2004-10-11","v":0.47},{"d":"2004-10-11","v":1.5},{"d":"2004-10-11","v":1.6},
        {"d":"2004-10-18","v":0.17},{"d":"2004-10-18","v":0.24},{"d":"2004-10-18","v":0.32},
        {"d":"2004-10-25","v":0.115},{"d":"2004-10-25","v":0.2},{"d":"2004-10-25","v":0.28},{"d":"2004-10-25","v":0.36},
        {"d":"2004-11-01","v":0.2},{"d":"2004-11-01","v":0.26},{"d":"2004-11-01","v":0.33},{"d":"2004-11-01","v":0.4},
        {"d":"2004-11-08","v":0.18},{"d":"2004-11-08","v":0.23},{"d":"2004-11-08","v":0.3},{"d":"2004-11-08","v":0.37},
        {"d":"2004-11-15","v":0.22},{"d":"2004-11-15","v":0.28},{"d":"2004-11-15","v":0.35},
        {"d":"2004-11-22","v":0.17},{"d":"2004-11-22","v":0.25},{"d":"2004-11-22","v":0.31},{"d":"2004-11-22","v":0.42},
        {"d":"2004-11-29","v":0.21},{"d":"2004-11-29","v":0.27},{"d":"2004-11-29","v":0.34},
        {"d":"2004-12-06","v":0.19},{"d":"2004-12-06","v":0.24},{"d":"2004-12-06","v":0.3},{"d":"2004-12-06","v":0.38},
        {"d":"2004-12-13","v":0.22},{"d":"2004-12-13","v":0.29},{"d":"2004-12-13","v":0.36},
        {"d":"2004-12-20","v":0.17},{"d":"2004-12-20","v":0.26},{"d":"2004-12-20","v":0.33},{"d":"2004-12-20","v":0.41},
        {"d":"2004-12-27","v":0.2},{"d":"2004-12-27","v":0.25},{"d":"2004-12-27","v":0.31},
        {"d":"2005-01-03","v":0.18},{"d":"2005-01-03","v":0.23},{"d":"2005-01-03","v":0.29},{"d":"2005-01-03","v":0.36},
        {"d":"2005-01-10","v":0.21},{"d":"2005-01-10","v":0.27},{"d":"2005-01-10","v":0.33},{"d":"2005-01-10","v":0.44},
        {"d":"2005-01-17","v":0.19},{"d":"2005-01-17","v":0.25},{"d":"2005-01-17","v":0.3},{"d":"2005-01-17","v":0.38},
        {"d":"2005-01-24","v":0.22},{"d":"2005-01-24","v":0.28},{"d":"2005-01-24","v":0.35},
        {"d":"2005-01-31","v":0.2},{"d":"2005-01-31","v":0.24},{"d":"2005-01-31","v":0.32},{"d":"2005-01-31","v":0.4},
        {"d":"2005-02-07","v":0.23},{"d":"2005-02-07","v":0.29},{"d":"2005-02-07","v":0.36},
        {"d":"2005-02-14","v":0.21},{"d":"2005-02-14","v":0.26},{"d":"2005-02-14","v":0.34},{"d":"2005-02-14","v":0.48},
        {"d":"2005-02-21","v":0.24},{"d":"2005-02-21","v":0.3},{"d":"2005-02-21","v":0.38},
        {"d":"2005-02-28","v":0.22},{"d":"2005-02-28","v":0.27},{"d":"2005-02-28","v":0.33},{"d":"2005-02-28","v":0.42},
        {"d":"2005-03-07","v":0.25},{"d":"2005-03-07","v":0.31},{"d":"2005-03-07","v":0.4},{"d":"2005-03-07","v":0.5},
        {"d":"2005-03-14","v":0.23},{"d":"2005-03-14","v":0.29},{"d":"2005-03-14","v":0.36},
        {"d":"2005-03-21","v":0.26},{"d":"2005-03-21","v":0.33},{"d":"2005-03-21","v":0.44},{"d":"2005-03-21","v":0.55},
        {"d":"2005-03-28","v":0.24},{"d":"2005-03-28","v":0.3},{"d":"2005-03-28","v":0.38},
        {"d":"2005-04-04","v":0.27},{"d":"2005-04-04","v":0.35},{"d":"2005-04-04","v":0.46},{"d":"2005-04-04","v":0.6},
        {"d":"2005-04-11","v":0.25},{"d":"2005-04-11","v":0.32},{"d":"2005-04-11","v":0.41},{"d":"2005-04-11","v":0.52},
        {"d":"2005-04-18","v":0.29},{"d":"2005-04-18","v":0.37},{"d":"2005-04-18","v":0.48},{"d":"2005-04-18","v":0.65},
        {"d":"2005-04-25","v":0.26},{"d":"2005-04-25","v":0.34},{"d":"2005-04-25","v":0.44},
        {"d":"2005-05-02","v":0.3},{"d":"2005-05-02","v":0.4},{"d":"2005-05-02","v":0.55},{"d":"2005-05-02","v":0.7},
        {"d":"2005-05-09","v":0.27},{"d":"2005-05-09","v":0.36},{"d":"2005-05-09","v":0.47},{"d":"2005-05-09","v":0.6},
        {"d":"2005-05-16","v":0.32},{"d":"2005-05-16","v":0.42},{"d":"2005-05-16","v":0.58},{"d":"2005-05-16","v":0.66},
        {"d":"2005-05-23","v":0.28},{"d":"2005-05-23","v":0.38},{"d":"2005-05-23","v":0.5},{"d":"2005-05-23","v":0.66},
        {"d":"2005-05-30","v":0.26},{"d":"2005-05-30","v":0.34},{"d":"2005-05-30","v":0.45},{"d":"2005-05-30","v":0.56},
        {"d":"2005-06-06","v":0.3},{"d":"2005-06-06","v":0.4},{"d":"2005-06-06","v":0.52},{"d":"2005-06-06","v":0.68},
        {"d":"2005-06-13","v":0.24},{"d":"2005-06-13","v":0.33},{"d":"2005-06-13","v":0.44},{"d":"2005-06-13","v":0.58},
        {"d":"2005-06-20","v":0.28},{"d":"2005-06-20","v":0.37},{"d":"2005-06-20","v":0.48},{"d":"2005-06-20","v":0.62},
        {"d":"2005-06-27","v":0.22},{"d":"2005-06-27","v":0.31},{"d":"2005-06-27","v":0.42},
        {"d":"2005-07-04","v":0.26},{"d":"2005-07-04","v":0.35},{"d":"2005-07-04","v":0.46},{"d":"2005-07-04","v":0.6},
        {"d":"2005-07-11","v":0.23},{"d":"2005-07-11","v":0.3},{"d":"2005-07-11","v":0.4},{"d":"2005-07-11","v":0.54},{"d":"2005-07-11","v":0.79},
        {"d":"2005-07-18","v":0.27},{"d":"2005-07-18","v":0.36},{"d":"2005-07-18","v":0.5},{"d":"2005-07-18","v":0.64},
        {"d":"2005-07-25","v":0.25},{"d":"2005-07-25","v":0.33},{"d":"2005-07-25","v":0.43},
        {"d":"2005-08-01","v":0.28},{"d":"2005-08-01","v":0.38},{"d":"2005-08-01","v":0.52},
        {"d":"2005-08-08","v":0.24},{"d":"2005-08-08","v":0.32},{"d":"2005-08-08","v":0.44},{"d":"2005-08-08","v":0.58},
        {"d":"2005-08-15","v":0.3},{"d":"2005-08-15","v":0.4},{"d":"2005-08-15","v":0.55},
        {"d":"2005-08-22","v":0.26},{"d":"2005-08-22","v":0.35},{"d":"2005-08-22","v":0.47},
        {"d":"2005-08-29","v":0.22},{"d":"2005-08-29","v":0.3},{"d":"2005-08-29","v":0.4},{"d":"2005-08-29","v":0.5},
        {"d":"2005-09-05","v":0.18},{"d":"2005-09-05","v":0.26},{"d":"2005-09-05","v":0.36},{"d":"2005-09-05","v":0.46},
        {"d":"2005-09-12","v":0.2},{"d":"2005-09-12","v":0.24},{"d":"2005-09-12","v":0.33},
        {"d":"2005-09-19","v":0.22},{"d":"2005-09-19","v":0.28},{"d":"2005-09-19","v":0.4},
        {"d":"2005-09-24","v":0.15},{"d":"2005-09-24","v":0.16},{"d":"2005-09-24","v":0.18},
        {"d":"2005-09-28","v":0.115},{"d":"2005-09-28","v":0.21},{"d":"2005-09-28","v":0.3},
        {"d":"2005-10-03","v":0.24},{"d":"2005-10-03","v":0.33},{"d":"2005-10-03","v":0.44},{"d":"2005-10-03","v":0.56},
        {"d":"2005-10-10","v":0.27},{"d":"2005-10-10","v":0.36},{"d":"2005-10-10","v":0.48},
        {"d":"2005-10-17","v":0.25},{"d":"2005-10-17","v":0.32},{"d":"2005-10-17","v":0.42},{"d":"2005-10-17","v":0.6},
        {"d":"2005-10-24","v":0.29},{"d":"2005-10-24","v":0.38},{"d":"2005-10-24","v":0.5},
        {"d":"2005-10-31","v":0.26},{"d":"2005-10-31","v":0.35},{"d":"2005-10-31","v":0.45},{"d":"2005-10-31","v":0.55},
        {"d":"2005-11-07","v":0.3},{"d":"2005-11-07","v":0.4},{"d":"2005-11-07","v":0.52},
        {"d":"2005-11-14","v":0.27},{"d":"2005-11-14","v":0.37},{"d":"2005-11-14","v":0.48},{"d":"2005-11-14","v":0.62},
        {"d":"2005-11-21","v":0.32},{"d":"2005-11-21","v":0.42},{"d":"2005-11-21","v":0.56},
        {"d":"2005-11-28","v":0.28},{"d":"2005-11-28","v":0.38},{"d":"2005-11-28","v":0.5},
        {"d":"2005-12-05","v":0.31},{"d":"2005-12-05","v":0.41},{"d":"2005-12-05","v":0.54},{"d":"2005-12-05","v":0.64},
        {"d":"2005-12-12","v":0.27},{"d":"2005-12-12","v":0.36},{"d":"2005-12-12","v":0.47},
        {"d":"2005-12-19","v":0.33},{"d":"2005-12-19","v":0.44},{"d":"2005-12-19","v":0.58},
        {"d":"2005-12-26","v":0.3},{"d":"2005-12-26","v":0.39},{"d":"2005-12-26","v":0.5},{"d":"2005-12-26","v":0.62},
        {"d":"2006-01-02","v":0.28},{"d":"2006-01-02","v":0.36},{"d":"2006-01-02","v":0.46},{"d":"2006-01-02","v":0.58},
        {"d":"2006-01-09","v":0.32},{"d":"2006-01-09","v":0.42},{"d":"2006-01-09","v":0.55},
        {"d":"2006-01-16","v":0.26},{"d":"2006-01-16","v":0.34},{"d":"2006-01-16","v":0.44},{"d":"2006-01-16","v":0.64},
        {"d":"2006-01-23","v":0.3},{"d":"2006-01-23","v":0.39},{"d":"2006-01-23","v":0.5},
        {"d":"2006-01-30","v":0.35},{"d":"2006-01-30","v":0.45},{"d":"2006-01-30","v":0.6},
        {"d":"2006-02-06","v":0.28},{"d":"2006-02-06","v":0.37},{"d":"2006-02-06","v":0.48},{"d":"2006-02-06","v":0.66},
        {"d":"2006-02-13","v":0.32},{"d":"2006-02-13","v":0.42},{"d":"2006-02-13","v":0.55},{"d":"2006-02-13","v":0.72},
        {"d":"2006-02-20","v":0.27},{"d":"2006-02-20","v":0.36},{"d":"2006-02-20","v":0.46},
        {"d":"2006-02-27","v":0.34},{"d":"2006-02-27","v":0.44},{"d":"2006-02-27","v":0.58},{"d":"2006-02-27","v":0.76},
        {"d":"2006-03-06","v":0.3},{"d":"2006-03-06","v":0.4},{"d":"2006-03-06","v":0.52},{"d":"2006-03-06","v":0.68},
        {"d":"2006-03-13","v":0.26},{"d":"2006-03-13","v":0.35},{"d":"2006-03-13","v":0.46},{"d":"2006-03-13","v":0.6},
        {"d":"2006-03-20","v":0.33},{"d":"2006-03-20","v":0.43},{"d":"2006-03-20","v":0.56},{"d":"2006-03-20","v":0.74},
        {"d":"2006-03-27","v":0.29},{"d":"2006-03-27","v":0.38},{"d":"2006-03-27","v":0.5},
        {"d":"2006-04-03","v":0.35},{"d":"2006-04-03","v":0.46},{"d":"2006-04-03","v":0.6},{"d":"2006-04-03","v":0.83},
        {"d":"2006-04-10","v":0.3},{"d":"2006-04-10","v":0.4},{"d":"2006-04-10","v":0.52},{"d":"2006-04-10","v":0.7},
        {"d":"2006-04-17","v":0.27},{"d":"2006-04-17","v":0.37},{"d":"2006-04-17","v":0.48},{"d":"2006-04-17","v":0.64},
        {"d":"2006-04-24","v":0.33},{"d":"2006-04-24","v":0.44},{"d":"2006-04-24","v":0.58},{"d":"2006-04-24","v":0.78},
        {"d":"2006-05-01","v":0.3},{"d":"2006-05-01","v":0.4},{"d":"2006-05-01","v":0.54},{"d":"2006-05-01","v":0.7},
        {"d":"2006-05-08","v":0.36},{"d":"2006-05-08","v":0.47},{"d":"2006-05-08","v":0.62},{"d":"2006-05-08","v":0.8},
        {"d":"2006-05-15","v":0.28},{"d":"2006-05-15","v":0.38},{"d":"2006-05-15","v":0.5},{"d":"2006-05-15","v":0.66},
        {"d":"2006-05-22","v":0.33},{"d":"2006-05-22","v":0.44},{"d":"2006-05-22","v":0.58},{"d":"2006-05-22","v":0.76},
        {"d":"2006-05-29","v":0.3},{"d":"2006-05-29","v":0.41},{"d":"2006-05-29","v":0.53},
        {"d":"2006-06-05","v":0.35},{"d":"2006-06-05","v":0.46},{"d":"2006-06-05","v":0.62},{"d":"2006-06-05","v":0.88},
        {"d":"2006-06-12","v":0.29},{"d":"2006-06-12","v":0.39},{"d":"2006-06-12","v":0.52},{"d":"2006-06-12","v":0.7},
        {"d":"2006-06-19","v":0.32},{"d":"2006-06-19","v":0.43},{"d":"2006-06-19","v":0.57},{"d":"2006-06-19","v":0.78},
        {"d":"2006-06-26","v":0.27},{"d":"2006-06-26","v":0.37},{"d":"2006-06-26","v":0.5},{"d":"2006-06-26","v":0.64},
        {"d":"2006-07-03","v":0.34},{"d":"2006-07-03","v":0.45},{"d":"2006-07-03","v":0.6},{"d":"2006-07-03","v":0.82},
        {"d":"2006-07-10","v":0.3},{"d":"2006-07-10","v":0.4},{"d":"2006-07-10","v":0.54},{"d":"2006-07-10","v":0.72},
        {"d":"2006-07-17","v":0.36},{"d":"2006-07-17","v":0.48},{"d":"2006-07-17","v":0.66},{"d":"2006-07-17","v":0.86},
        {"d":"2006-07-24","v":0.28},{"d":"2006-07-24","v":0.38},{"d":"2006-07-24","v":0.5},
        {"d":"2006-07-31","v":0.33},{"d":"2006-07-31","v":0.44},{"d":"2006-07-31","v":0.6},{"d":"2006-07-31","v":0.8},
        {"d":"2006-08-07","v":0.3},{"d":"2006-08-07","v":0.41},{"d":"2006-08-07","v":0.55},{"d":"2006-08-07","v":0.9},
        {"d":"2006-08-14","v":0.35},{"d":"2006-08-14","v":0.47},{"d":"2006-08-14","v":0.64},{"d":"2006-08-14","v":0.84},
        {"d":"2006-08-21","v":0.27},{"d":"2006-08-21","v":0.38},{"d":"2006-08-21","v":0.52},{"d":"2006-08-21","v":0.7},
        {"d":"2006-08-28","v":0.32},{"d":"2006-08-28","v":0.44},{"d":"2006-08-28","v":0.6},
        {"d":"2006-09-04","v":0.36},{"d":"2006-09-04","v":0.5},{"d":"2006-09-04","v":0.68},
        {"d":"2006-09-11","v":0.3},{"d":"2006-09-11","v":0.42},{"d":"2006-09-11","v":0.56},
        {"d":"2006-09-18","v":0.26},{"d":"2006-09-18","v":0.36},{"d":"2006-09-18","v":0.48},{"d":"2006-09-18","v":0.62},
        {"d":"2006-09-25","v":0.32},{"d":"2006-09-25","v":0.45},{"d":"2006-09-25","v":0.58},
        {"d":"2006-10-02","v":0.28},{"d":"2006-10-02","v":0.36},{"d":"2006-10-02","v":0.5},{"d":"2006-10-02","v":1.1},
        {"d":"2006-10-09","v":0.22},{"d":"2006-10-09","v":0.29},{"d":"2006-10-09","v":0.4},{"d":"2006-10-09","v":1.03},
        {"d":"2006-10-16","v":0.18},{"d":"2006-10-16","v":0.24},{"d":"2006-10-16","v":0.28},
        {"d":"2006-10-23","v":0.16},{"d":"2006-10-23","v":0.2},{"d":"2006-10-23","v":0.26},
        {"d":"2006-10-30","v":0.15},{"d":"2006-10-30","v":0.19},{"d":"2006-10-30","v":0.22},
        {"d":"2006-11-06","v":0.17},{"d":"2006-11-06","v":0.21},{"d":"2006-11-06","v":0.27},
        {"d":"2006-11-13","v":0.16},{"d":"2006-11-13","v":0.19},{"d":"2006-11-13","v":0.24},
        {"d":"2006-11-20","v":0.18},{"d":"2006-11-20","v":0.23},{"d":"2006-11-20","v":0.28},
        {"d":"2006-11-27","v":0.17},{"d":"2006-11-27","v":0.2},{"d":"2006-11-27","v":0.25},
        {"d":"2006-12-04","v":0.19},{"d":"2006-12-04","v":0.22},{"d":"2006-12-04","v":0.27},
        {"d":"2006-12-11","v":0.2},{"d":"2006-12-11","v":0.24},{"d":"2006-12-11","v":0.28},
        {"d":"2006-12-18","v":0.21},{"d":"2006-12-18","v":0.26},
        {"d":"2006-12-26","v":0.22},{"d":"2006-12-26","v":0.27},
        {"d":"2007-01-05","v":0.2},{"d":"2007-01-05","v":0.24},{"d":"2007-01-05","v":0.28}
      ]},
      "mark": {"type": "point", "filled": true, "size": 2043, "opacity": 1},
      "encoding": {
        "x": {
          "field": "d",
          "type": "temporal",
          "scale": {
            "type": "utc",
            "nice": false,
            "domain": [
              {"year": 1998, "month": 1, "date": 1, "utc": true},
              {"year": 2007, "month": 12, "date": 30, "utc": true}
            ]
          },
          "axis": {
            "title": null,
            "grid": false,
            "values": [
              {"year": 1998, "month": 1, "date": 1, "utc": true},
              {"year": 2000, "month": 1, "date": 1, "utc": true},
              {"year": 2001, "month": 12, "date": 31, "utc": true},
              {"year": 2003, "month": 12, "date": 31, "utc": true},
              {"year": 2005, "month": 12, "date": 30, "utc": true},
              {"year": 2007, "month": 12, "date": 30, "utc": true}
            ],
            "labelExpr": "utcFormat(datum.value, '%-m/%-d/%y')",
            "tickSize": 7,
            "labelPadding": 8,
            "labelFlush": false,
            "labelOverlap": false,
            "labelBound": false
          }
        },
        "y": {
          "field": "v",
          "type": "quantitative",
          "scale": {"type": "log", "domain": [0.1, 10], "nice": false},
          "axis": {
            "title": "Feedwater Fe (ppb)",
            "titlePadding": 12,
            "values": [0.1, 0.2, 0.3, 0.4, 0.5, 0.6, 0.7, 0.8, 0.9, 1, 2, 3, 4, 5, 6, 7, 8, 9, 10],
            "format": "~g",
            "labelExpr": "datum.value == 0.1 || datum.value == 1 || datum.value == 10 ? datum.label : ''",
            "grid": true,
            "gridColor": "#404040",
            "gridWidth": 1,
            "tickSize": 8,
            "tickOpacity": {"condition": {"test": "datum.value == 0.1 || datum.value == 1 || datum.value == 10", "value": 1}, "value": 0},
            "labelPadding": 9,
            "labelOverlap": false,
            "labelBound": false
          }
        },
        "color": {
          "datum": "Insoluble Fe",
          "scale": {"domain": ["Insoluble Fe", "NMCA"], "range": ["#000080", "#FF0000"]},
          "legend": {"title": null}
        },
        "shape": {
          "datum": "Insoluble Fe",
          "scale": {"domain": ["Insoluble Fe", "NMCA"], "range": ["M-0.25,0L0,-0.25L0.25,0L0,0.25Z", "M-1,0H1"]},
          "legend": {"title": null}
        }
      }
    },
    {
      "data": {"values": [{"d": "1998-09-23"}]},
      "mark": {"type": "rule", "strokeWidth": 1},
      "encoding": {
        "x": {"field": "d", "type": "temporal"},
        "color": {"datum": "NMCA", "legend": null}
      }
    }
  ]
}
